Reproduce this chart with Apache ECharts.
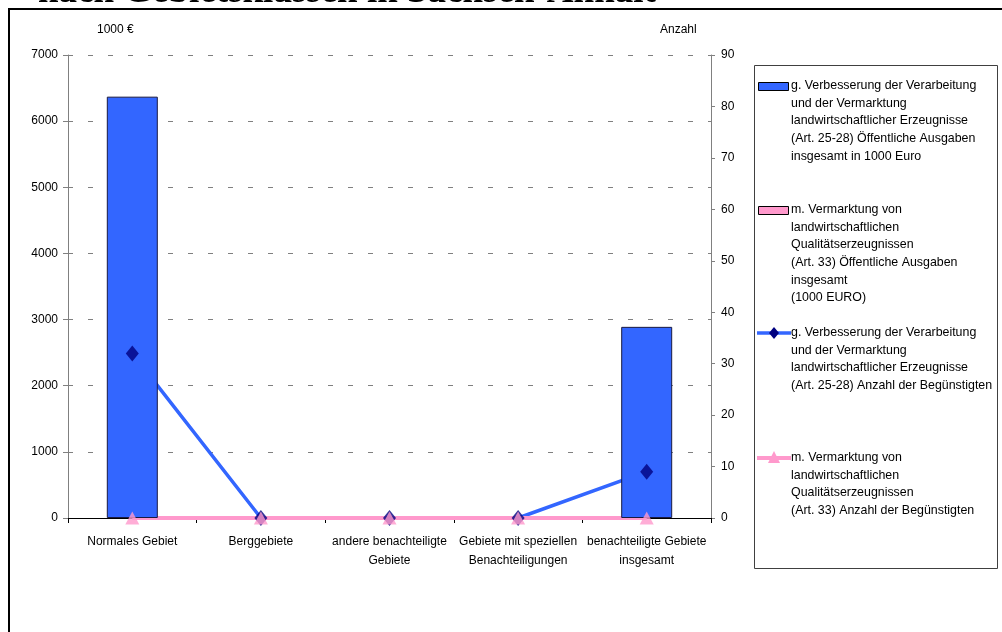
<!DOCTYPE html>
<html>
<head>
<meta charset="utf-8">
<script src="https://cdn.jsdelivr.net/npm/echarts@6/dist/echarts.min.js"></script>
<style>
  html, body { margin: 0; padding: 0; background: #fff; }
  #chart { width: 1002px; height: 632px; }
</style>
</head>
<body>
<div id="chart"></div>
<script>
// Gebietsklassen (x-axis)
const categories = [
  'Normales Gebiet',
  'Berggebiete',
  'andere benachteiligte\nGebiete',
  'Gebiete mit speziellen\nBenachteiligungen',
  'benachteiligte Gebiete\ninsgesamt'
];
// Öffentliche Ausgaben in 1000 Euro (left axis)
const ausgabenVerarbeitung = [6370, 0, 0, 0, 2890];
const ausgabenQualitaet = [0, 0, 0, 0, 0];
// Anzahl der Begünstigten (right axis)
const anzahlVerarbeitung = [32, 0, 0, 0, 9];
const anzahlQualitaet = [0, 0, 0, 0, 0];

// Legend texts
const legendTexts = [
  'g. Verbesserung der Verarbeitung\nund der Vermarktung\nlandwirtschaftlicher Erzeugnisse\n(Art. 25-28) Öffentliche Ausgaben\ninsgesamt in 1000 Euro',
  'm. Vermarktung von\nlandwirtschaftlichen\nQualitätserzeugnissen\n(Art. 33) Öffentliche Ausgaben\ninsgesamt\n(1000 EURO)',
  'g. Verbesserung der Verarbeitung\nund der Vermarktung\nlandwirtschaftlicher Erzeugnisse\n(Art. 25-28) Anzahl der Begünstigten',
  'm. Vermarktung von\nlandwirtschaftlichen\nQualitätserzeugnissen\n(Art. 33) Anzahl der Begünstigten'
];

const BLUE = '#3366FF';
const PINK = '#FF99CC';
const NAVY = '#000080';
const FONT = 'Liberation Sans, Arial, sans-serif';

const chart = echarts.init(document.getElementById('chart'), null, { renderer: 'canvas' });

// bars with zero height get no outline
function barItems(values, color, border) {
  return values.map(function (v) {
    return { value: v, itemStyle: { color: color, borderColor: border, borderWidth: v ? 1 : 0 } };
  });
}

const legendTop = [77, 201, 324, 449];
const legendGraphics = [];
legendTexts.forEach(function (t, i) {
  legendGraphics.push({
    type: 'text', x: 791, y: legendTop[i], z: 10,
    style: { text: t, font: '12.4px ' + FONT, fill: '#000', lineHeight: 17.6, verticalAlign: 'top' }
  });
});
// bar icons
legendGraphics.push({ type: 'rect', shape: { x: 758.5, y: 82.5, width: 30, height: 8 }, style: { fill: BLUE, stroke: '#000', lineWidth: 1 }, z: 10 });
legendGraphics.push({ type: 'rect', shape: { x: 758.5, y: 206.5, width: 30, height: 8 }, style: { fill: PINK, stroke: '#000', lineWidth: 1 }, z: 10 });
// line icons
legendGraphics.push({ type: 'line', shape: { x1: 757, y1: 333, x2: 791, y2: 333 }, style: { stroke: BLUE, lineWidth: 3.5 }, z: 10 });
legendGraphics.push({ type: 'polygon', shape: { points: [[774, 327], [779, 333], [774, 339], [769, 333]] }, style: { fill: NAVY }, z: 11 });
legendGraphics.push({ type: 'line', shape: { x1: 757, y1: 458, x2: 791, y2: 458 }, style: { stroke: PINK, lineWidth: 4 }, z: 10 });
legendGraphics.push({ type: 'polygon', shape: { points: [[774, 451], [780, 463], [768, 463]] }, style: { fill: PINK }, z: 11 });

const option = {
  backgroundColor: '#fff',
  animation: false,
  textStyle: { fontFamily: FONT },
  grid: { left: 68, right: 291, top: 55, bottom: 114, containLabel: false },
  xAxis: {
    type: 'category',
    data: categories,
    boundaryGap: true,
    axisLine: { onZero: false, lineStyle: { color: '#000', width: 1 } },
    axisTick: { show: true, alignWithLabel: false, length: 5, lineStyle: { color: '#000' } },
    axisLabel: { interval: 0, color: '#000', fontSize: 12, lineHeight: 19, margin: 14 }
  },
  yAxis: [
    {
      type: 'value', min: 0, max: 7000, interval: 1000,
      axisLine: { show: true, lineStyle: { color: '#808080' } },
      axisTick: { show: true, length: 5, lineStyle: { color: '#808080' } },
      axisLabel: { color: '#000', fontSize: 12, margin: 10, formatter: function (v) { return String(v); } },
      splitLine: { show: true, lineStyle: { color: '#808080', type: [5, 15], width: 1 } }
    },
    {
      type: 'value', min: 0, max: 90, interval: 10, position: 'right',
      axisLine: { show: true, lineStyle: { color: '#808080' } },
      axisTick: { show: true, length: 4, lineStyle: { color: '#808080' } },
      axisLabel: { color: '#000', fontSize: 12, margin: 10 },
      splitLine: { show: false }
    }
  ],
  series: [
    {
      name: 'Ausgaben Verarbeitung', type: 'bar', yAxisIndex: 0, z: 3,
      data: barItems(ausgabenVerarbeitung, BLUE, '#1a1a40'), barWidth: 51, barGap: '-100%'
    },
    {
      name: 'Ausgaben Qualität', type: 'bar', yAxisIndex: 0, z: 3,
      data: barItems(ausgabenQualitaet, PINK, '#000'), barWidth: 51
    },
    {
      name: 'Anzahl Verarbeitung', type: 'line', yAxisIndex: 1, z: 1,
      data: anzahlVerarbeitung, symbol: 'none',
      lineStyle: { color: BLUE, width: 3.5 }
    },
    {
      name: 'Anzahl Qualität', type: 'line', yAxisIndex: 1, z: 2,
      data: anzahlQualitaet, symbol: 'none',
      lineStyle: { color: PINK, width: 4 }
    },
    {
      name: 'Anzahl Verarbeitung Punkte', type: 'scatter', yAxisIndex: 1, z: 4,
      data: anzahlVerarbeitung, symbol: 'diamond', symbolSize: [13, 16],
      itemStyle: { color: NAVY }
    },
    {
      name: 'Anzahl Qualität Punkte', type: 'scatter', yAxisIndex: 1, z: 5,
      data: anzahlQualitaet, symbol: 'triangle', symbolSize: [14, 13],
      itemStyle: { color: PINK }
    }
  ],
  graphic: [
    // page title, running off the top edge
    { type: 'text', x: 38, y: -8, z: 20,
      style: { text: 'nach Gebietsklassen in Sachsen-Anhalt', font: 'bold 37px "Liberation Serif", serif', fill: '#000', verticalAlign: 'middle', align: 'left' } },
    // outer frame
    { type: 'rect', shape: { x: 9, y: 9, width: 1100, height: 700 }, style: { fill: null, stroke: '#000', lineWidth: 2 }, z: 21 },
    // axis units
    { type: 'text', x: 97, y: 24, style: { text: '1000 €', font: '12px ' + FONT, fill: '#000', verticalAlign: 'top' } },
    { type: 'text', x: 660, y: 24, style: { text: 'Anzahl', font: '12px ' + FONT, fill: '#000', verticalAlign: 'top' } },
    // legend box
    { type: 'rect', shape: { x: 754.5, y: 65.5, width: 243, height: 503 }, style: { fill: '#fff', stroke: '#404040', lineWidth: 1 }, z: 9 }
  ].concat(legendGraphics)
};

chart.setOption(option);
</script>
</body>
</html>
